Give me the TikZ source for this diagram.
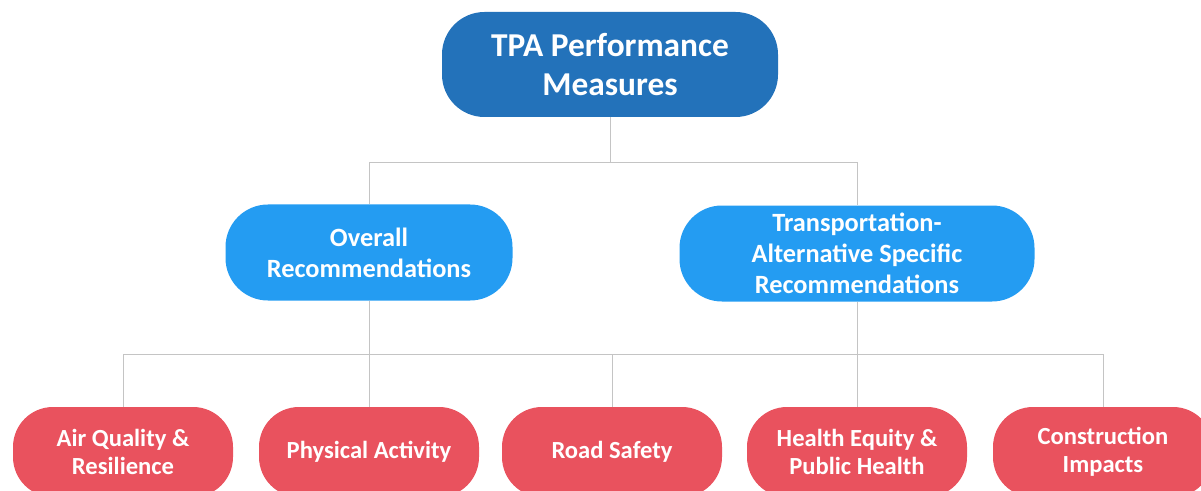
\documentclass[tikz,border=0pt]{standalone}
\usepackage{fontspec}
\setmainfont{Carlito}
\usetikzlibrary{positioning}
\definecolor{topBlue}{RGB}{35,114,186}
\definecolor{midBlue}{RGB}{36,156,242}
\definecolor{leafRed}{RGB}{233,82,94}
\definecolor{linkGrey}{RGB}{196,196,196}
\tikzset{
  pill/.style={rounded corners=0.85cm, align=center, text=white, font=\bfseries, inner sep=0pt},
  topbox/.style={pill, fill=topBlue, minimum width=6.72cm, minimum height=2.1cm, font=\fontsize{19}{22}\selectfont\bfseries},
  midbox/.style={pill, fill=midBlue, minimum height=1.92cm, font=\fontsize{15}{17.5}\selectfont\bfseries},
  leafbox/.style={pill, fill=leafRed, minimum width=4.4cm, minimum height=1.8cm, rounded corners=0.8cm, font=\fontsize{14}{16}\selectfont\bfseries},
  link/.style={draw=linkGrey, line width=0.5pt}
}
\begin{document}
\begin{tikzpicture}
  \useasboundingbox (0,0) rectangle (24.02,-9.82);
  % top and middle level
  \node[topbox] (tpa) at (12.20,-1.29) {TPA Performance\\Measures};
  \node[midbox, minimum width=5.74cm] (overall) at (7.38,-5.05) {Overall\\Recommendations};
  \node[midbox, minimum width=7.1cm] (altspec) at (17.14,-5.07) {Transportation-\\Alternative Specific\\Recommendations};
  % measures
  \node[leafbox] (air) at (2.46,-9.04) {Air Quality \&\\Resilience};
  \node[leafbox] (phys) at (7.38,-9.04) {Physical Activity};
  \node[leafbox] (road) at (12.24,-9.04) {Road Safety};
  \node[leafbox] (equity) at (17.14,-9.04) {Health Equity \&\\Public Health};
  \node[leafbox] (constr) at (22.06,-9.04) {Construction\\Impacts};
  % connectors
  \coordinate (upbus) at (0,-3.24);
  \coordinate (lowbus) at (0,-7.08);
  \draw[link] (tpa.south) -- (tpa.south |- upbus);
  \draw[link] (overall.north) |- (upbus -| altspec.north) -- (altspec.north);
  \draw[link] (overall.south) -- (phys.north);
  \draw[link] (altspec.south) -- (equity.north);
  \draw[link] (air.north) |- (lowbus -| constr.north) -- (constr.north);
  \draw[link] (road.north) -- (road.north |- lowbus);
\end{tikzpicture}
\end{document}
